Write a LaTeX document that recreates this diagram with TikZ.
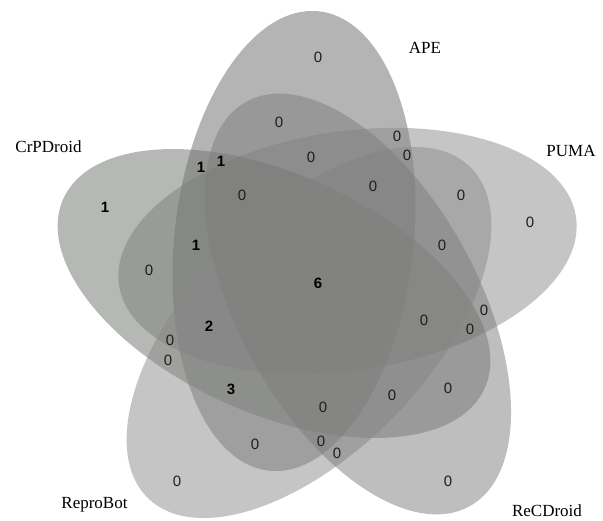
\documentclass[tikz,border=0pt]{standalone}
\usepackage{fontspec}
\setmainfont{Liberation Serif}
\newfontfamily\numfont{Liberation Sans}
\definecolor{apecol}{RGB}{105,105,105}
\definecolor{pumacol}{RGB}{139,139,139}
\definecolor{crpcol}{RGB}{110,114,107}
\definecolor{reprocol}{RGB}{139,139,139}
\definecolor{reccol}{RGB}{125,125,125}
\definecolor{numcol}{RGB}{30,30,30}
\begin{document}
\begin{tikzpicture}[x=1pt,y=-1pt,
  setfill/.style={fill=#1, fill opacity=0.5},
  num/.style={font=\numfont\fontsize{15}{15}\selectfont, text=numcol, inner sep=0pt},
  bnum/.style={font=\numfont\bfseries\fontsize{15}{15}\selectfont, text=black, inner sep=0pt},
  setlabel/.style={font=\fontsize{17}{17}\selectfont, inner sep=0pt}]
\useasboundingbox (0,0) rectangle (603,521);
% ellipses
\begin{scope}[shift={(294,241)}, rotate=83.8]
  \fill[setfill=apecol] (0,0) ellipse [x radius=231pt, y radius=119.6pt];
\end{scope}
\begin{scope}[shift={(347.5,251)}, rotate=8.5]
  \fill[setfill=pumacol] (0,0) ellipse [x radius=231pt, y radius=119.6pt];
\end{scope}
\begin{scope}[shift={(274,293.5)}, rotate=155.8]
  \fill[setfill=crpcol] (0,0) ellipse [x radius=231pt, y radius=119.6pt];
\end{scope}
\begin{scope}[shift={(309,332.5)}, rotate=225.85]
  \fill[setfill=reprocol] (0,0) ellipse [x radius=231pt, y radius=119.6pt];
\end{scope}
\begin{scope}[shift={(358,304)}, rotate=298.9]
  \fill[setfill=reccol] (0,0) ellipse [x radius=231pt, y radius=119.6pt];
\end{scope}
% set labels
\node[setlabel] (lape) at (425,48) {APE};
\node[setlabel] (lcrp) at (48.5,147) {CrPDroid};
\node[setlabel] (lpuma) at (571,151) {PUMA};
\node[setlabel] (lrepro) at (94.5,505) {ReproBot};
\node[setlabel] (lrec) at (547,511) {ReCDroid};
% region counts
\node[num] (n1) at (318,57) {0};
\node[num] (n2) at (279,122) {0};
\node[num] (n3) at (397,136) {0};
\node[num] (n4) at (407,155) {0};
\node[num] (n5) at (311,157) {0};
\node[bnum] (n6) at (201,167) {1};
\node[bnum] (n7) at (221,161) {1};
\node[num] (n8) at (242,195) {0};
\node[num] (n9) at (373,186) {0};
\node[num] (n10) at (461,195) {0};
\node[num] (n11) at (530,222) {0};
\node[bnum] (n12) at (105,207) {1};
\node[bnum] (n13) at (196,245) {1};
\node[num] (n14) at (149,270) {0};
\node[num] (n15) at (442,245) {0};
\node[bnum] (n16) at (318,283) {6};
\node[num] (n17) at (424,320) {0};
\node[num] (n18) at (484,310) {0};
\node[num] (n19) at (470,329) {0};
\node[bnum] (n20) at (209,326) {2};
\node[num] (n21) at (170,340) {0};
\node[num] (n22) at (168,360) {0};
\node[bnum] (n23) at (231,389) {3};
\node[num] (n24) at (448,388) {0};
\node[num] (n25) at (392,395) {0};
\node[num] (n26) at (323,407) {0};
\node[num] (n27) at (255,444) {0};
\node[num] (n28) at (321,441) {0};
\node[num] (n29) at (337,453) {0};
\node[num] (n30) at (177,481) {0};
\node[num] (n31) at (448,481) {0};
\end{tikzpicture}
\end{document}
